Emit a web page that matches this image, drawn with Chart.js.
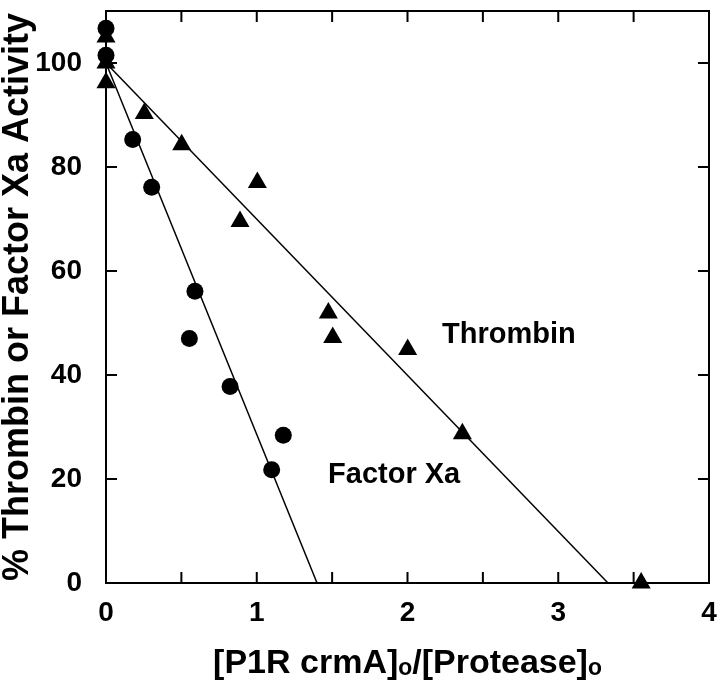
<!DOCTYPE html>
<html>
<head>
<meta charset="utf-8">
<script src="https://cdn.jsdelivr.net/npm/chart.js@4.4.0/dist/chart.umd.min.js"></script>
<style>
    html, body { margin: 0; padding: 0; background: #fff; }
</style>
</head>
<body>
<canvas id="activityChart" width="720" height="684"></canvas>
<script>
// Factor Xa (circles)
const factorXaX = [0, 0, 0.177, 0.303, 0.553, 0.590, 0.823, 1.099, 1.176];
const factorXaY = [106.7, 101.5, 85.3, 76.1, 47.0, 56.1, 37.8, 21.8, 28.4];

// Thrombin (triangles)
const thrombinX = [0, 0, 0, 0.254, 0.502, 0.889, 1.004, 1.475, 1.504, 2.001, 2.364, 3.55];
const thrombinY = [105, 100, 96.2, 90.3, 84.3, 69.5, 77.0, 51.9, 47.2, 44.9, 28.7, 0];

// fitted lines
const fitXaX = [0, 1.40];
const fitXaY = [100, 0];
const fitThrombinX = [0, 3.33];
const fitThrombinY = [100, 0];

// axes
const xTickValues = [0, 0.5, 1, 1.5, 2, 2.5, 3, 3.5, 4];
const yTickValues = [0, 20, 40, 60, 80, 100];

// in-plot labels: [text, x, y]
const seriesLabels = [
    ["Thrombin", 2.229, 47.6],
    ["Factor Xa", 1.473, 20.8],
];

const FONT = "'Liberation Sans', Arial, Helvetica, sans-serif";
Chart.defaults.font.family = FONT;
Chart.defaults.color = "#000";

const toPoints = (xs, ys) => xs.map((x, i) => ({ x: x, y: ys[i] }));

// frame with inward ticks on all four sides
const frameTicks = {
    id: "frameTicks",
    beforeDatasetsDraw(chart) {
        const { ctx, chartArea: a, scales } = chart;
        const len = 11;
        ctx.save();
        ctx.strokeStyle = "#000";
        ctx.lineWidth = 2;
        ctx.strokeRect(a.left, a.top, a.right - a.left, a.bottom - a.top);
        ctx.beginPath();
        scales.x.ticks.forEach((t) => {
            const px = scales.x.getPixelForValue(t.value);
            ctx.moveTo(px, a.bottom); ctx.lineTo(px, a.bottom - len);
            ctx.moveTo(px, a.top); ctx.lineTo(px, a.top + len);
        });
        scales.y.ticks.forEach((t) => {
            const py = scales.y.getPixelForValue(t.value);
            ctx.moveTo(a.left, py); ctx.lineTo(a.left + len, py);
            ctx.moveTo(a.right, py); ctx.lineTo(a.right - len, py);
        });
        ctx.stroke();
        ctx.restore();
    },
    afterDraw(chart) {
        const { ctx, scales } = chart;
        ctx.save();
        ctx.fillStyle = "#000";
        ctx.font = "bold 29px " + FONT;
        ctx.textAlign = "left";
        ctx.textBaseline = "middle";
        seriesLabels.forEach(([text, x, y]) => {
            ctx.fillText(text, scales.x.getPixelForValue(x), scales.y.getPixelForValue(y));
        });
        ctx.restore();
    },
};

new Chart(document.getElementById("activityChart"), {
    type: "scatter",
    data: {
        datasets: [
            {
                label: "Factor Xa fit",
                data: toPoints(fitXaX, fitXaY),
                showLine: true,
                borderColor: "#000",
                borderWidth: 1.5,
                pointRadius: 0,
                clip: false,
            },
            {
                label: "Thrombin fit",
                data: toPoints(fitThrombinX, fitThrombinY),
                showLine: true,
                borderColor: "#000",
                borderWidth: 1.5,
                pointRadius: 0,
                clip: false,
            },
            {
                label: "Factor Xa",
                data: toPoints(factorXaX, factorXaY),
                pointStyle: "circle",
                pointRadius: 8.5,
                backgroundColor: "#000",
                borderColor: "#000",
                borderWidth: 0,
                clip: false,
            },
            {
                label: "Thrombin",
                data: toPoints(thrombinX, thrombinY),
                pointStyle: "triangle",
                pointRadius: 11,
                backgroundColor: "#000",
                borderColor: "#000",
                borderWidth: 0,
                clip: false,
            },
        ],
    },
    options: {
        responsive: false,
        animation: false,
        layout: { padding: { top: 5, right: 11, left: 0, bottom: 0 } },
        plugins: { legend: { display: false }, tooltip: { enabled: false } },
        scales: {
            x: {
                type: "linear",
                min: 0,
                max: 4,
                grid: { display: false },
                border: { display: false },
                afterBuildTicks: (scale) => { scale.ticks = xTickValues.map((v) => ({ value: v })); },
                afterFit: (scale) => { scale.height = 101; scale.paddingLeft = 0; scale.paddingRight = 0; },
                ticks: {
                    padding: 8,
                    maxRotation: 0,
                    autoSkip: false,
                    font: { size: 28, weight: "bold", lineHeight: 1 },
                    callback: (v) => (Number.isInteger(v) ? String(v) : ""),
                },
                title: {
                    display: true,
                    text: "[P1R crmA]ₒ/[Protease]ₒ",
                    padding: { top: 0, bottom: 3 },
                    font: { size: 34, weight: "bold", lineHeight: 1 },
                },
            },
            y: {
                type: "linear",
                min: 0,
                max: 110,
                grid: { display: false },
                border: { display: false },
                afterBuildTicks: (scale) => { scale.ticks = yTickValues.map((v) => ({ value: v })); },
                afterFit: (scale) => { scale.width = 106; scale.paddingTop = 0; scale.paddingBottom = 0; },
                ticks: {
                    padding: 16,
                    autoSkip: false,
                    font: { size: 28, weight: "bold", lineHeight: 1 },
                },
                title: {
                    display: true,
                    text: "% Thrombin or Factor Xa Activity",
                    padding: { top: 0, bottom: 0 },
                    font: { size: 36, weight: "bold", lineHeight: 1 },
                },
            },
        },
    },
    plugins: [frameTicks],
});
</script>
</body>
</html>
